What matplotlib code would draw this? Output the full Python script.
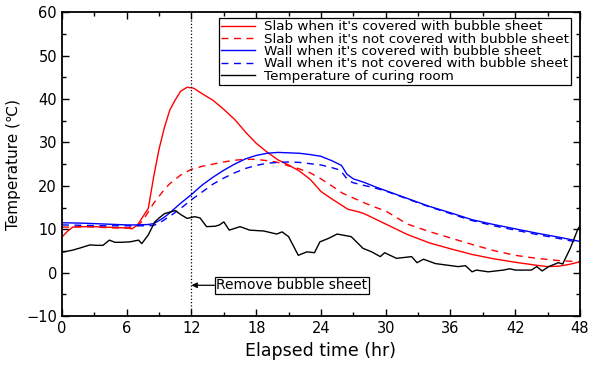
import matplotlib
matplotlib.use("Agg")
import matplotlib.pyplot as plt
from matplotlib.ticker import MultipleLocator

plt.rcParams['font.family'] = ['DejaVu Sans']

# Slab, covered with bubble sheet
slab_cov_h = [0, 0.5, 1, 2, 3, 4, 5, 6, 6.5, 7, 7.5, 8, 8.5, 9, 9.5, 10, 10.5, 11, 11.6, 12.2,
              13, 14, 15, 16, 17, 18, 19, 20, 21, 22, 23, 24, 25, 26, 26.5, 27.5, 28, 29, 30,
              31, 32, 34, 36, 38, 40, 42, 44, 45, 46, 47, 48]
slab_cov_t = [8.2, 9.5, 10.5, 10.6, 10.6, 10.5, 10.4, 10.3, 10.1, 11.0, 12.9, 14.8, 22.1, 28.5,
              33.5, 37.5, 39.8, 41.8, 42.7, 42.5, 41.2, 39.7, 37.6, 35.3, 32.4, 29.8, 27.8, 26.0,
              24.8, 23.4, 21.5, 18.7, 17.0, 15.4, 14.6, 14.0, 13.6, 12.4, 11.2, 10.0, 8.8, 6.9,
              5.5, 4.2, 3.2, 2.4, 1.7, 1.4, 1.5, 1.9, 2.5]

# Slab, not covered
slab_unc_h = [0, 1, 2, 3, 4, 5, 6, 7, 7.5, 8, 8.5, 9, 9.5, 10, 11, 12, 13, 14, 15, 16, 17, 18,
              19, 20, 21, 22, 23, 24, 25, 26, 27, 28, 29, 30, 32, 34, 36, 38, 40, 42, 44, 46, 48]
slab_unc_t = [10.5, 10.5, 10.6, 10.5, 10.4, 10.3, 10.3, 10.8, 12.0, 14.0, 16.0, 17.6, 19.2,
              20.5, 22.5, 23.8, 24.5, 25.0, 25.5, 25.9, 26.1, 26.1, 25.8, 25.4, 24.6, 23.9,
              23.0, 21.6, 20.0, 18.3, 17.2, 16.1, 15.1, 14.2, 11.2, 9.5, 8.0, 6.5, 5.1, 4.0,
              3.3, 2.8, 2.5]

# Wall, covered with bubble sheet
wall_cov_h = [0, 2, 4, 6, 7, 8, 8.5, 9, 9.5, 10, 11, 12, 13, 14, 15, 16, 17, 18, 19, 20, 21,
              22, 23, 24, 25, 25.9, 26.4, 27, 28, 29, 30, 32, 34, 36, 38, 40, 42, 44, 46, 48]
wall_cov_t = [11.5, 11.4, 11.2, 11.0, 11.0, 11.1, 11.3, 12.0, 12.8, 13.8, 16.0, 18.0, 20.2,
              22.0, 23.6, 25.0, 26.2, 27.0, 27.5, 27.7, 27.6, 27.5, 27.2, 26.8, 25.8, 24.7,
              22.7, 21.6, 20.8, 19.8, 18.9, 17.1, 15.3, 13.8, 12.2, 11.1, 10.1, 9.1, 8.2, 7.2]

# Wall, not covered
wall_unc_h = [0, 2, 4, 6, 8, 8.5, 9, 9.5, 10, 11, 12, 13, 14, 15, 16, 17, 18, 19, 20, 21, 22,
              23, 24, 25, 25.8, 26.5, 27, 28, 29, 30, 32, 34, 36, 38, 40, 42, 44, 46, 48]
wall_unc_t = [11.0, 10.9, 10.8, 10.8, 10.8, 10.9, 11.4, 12.2, 13.0, 14.8, 16.8, 18.6, 20.4,
              21.8, 23.0, 24.0, 24.7, 25.2, 25.4, 25.5, 25.4, 25.1, 24.8, 24.2, 23.6, 21.3,
              20.7, 20.1, 19.5, 18.8, 17.0, 15.2, 13.6, 12.0, 10.8, 9.8, 8.8, 7.9, 6.9]

# Curing room air
room_h = [0, 1, 1.7, 2.6, 3.2, 3.8, 4.4, 4.9, 5.5, 6.3, 7.1, 7.4, 8.0, 8.6, 9.0, 9.5, 10.5,
          11.0, 11.6, 12.3, 12.8, 13.4, 14.2, 14.6, 15.0, 15.5, 16.5, 17.4, 18.7, 19.9, 20.4,
          21.0, 21.9, 22.7, 23.4, 23.9, 24.7, 25.5, 26.8, 27.9, 28.7, 29.5, 29.9, 31.0, 32.4,
          32.9, 33.5, 34.6, 36.7, 37.4, 38.0, 38.4, 39.5, 40.9, 41.5, 42.0, 43.5, 44.0, 44.5,
          45.1, 46.0, 46.4, 47.1, 47.8, 48]
room_t = [4.7, 5.2, 5.7, 6.4, 6.3, 6.3, 7.5, 7.0, 7.0, 7.1, 7.5, 6.7, 8.7, 11.7, 12.6, 13.6,
          14.3, 13.4, 12.5, 12.9, 12.6, 10.6, 10.7, 11.0, 11.7, 9.8, 10.6, 9.8, 9.6, 8.9, 9.4,
          8.3, 4.0, 4.8, 4.6, 7.1, 7.9, 8.9, 8.3, 5.6, 4.8, 3.7, 4.6, 3.3, 3.7, 2.3, 3.1, 2.1,
          1.4, 1.6, 0.2, 0.6, 0.2, 0.6, 0.9, 0.6, 0.6, 1.4, 0.4, 1.4, 2.3, 2.0, 5.6, 10.0, 10.8]

fig = plt.figure(figsize=(5.9, 3.68), dpi=100)
ax = fig.add_axes([0.105, 0.141, 0.878, 0.826])

ax.plot(slab_cov_h, slab_cov_t, color="red", lw=1.0, label="Slab when it's covered with bubble sheet")
ax.plot(slab_unc_h, slab_unc_t, color="red", lw=1.0, ls=(0, (5, 4)),
        label="Slab when it's not covered with bubble sheet")
ax.plot(wall_cov_h, wall_cov_t, color="blue", lw=1.0, label="Wall when it's covered with bubble sheet")
ax.plot(wall_unc_h, wall_unc_t, color="blue", lw=1.0, ls=(0, (5, 4)),
        label="Wall when it's not covered with bubble sheet")
ax.plot(room_h, room_t, color="black", lw=1.0, label="Temperature of curing room")

ax.axvline(12, color="black", ls=":", lw=0.9)
ax.annotate("Remove bubble sheet", xy=(12, -2.9), xytext=(14.3, -2.9), fontsize=10,
            ha="left", va="center",
            bbox=dict(boxstyle="square,pad=0.1", fc="white", ec="black", lw=0.9),
            arrowprops=dict(arrowstyle="-|>", color="black", lw=0.9, mutation_scale=8,
                            shrinkA=0, shrinkB=0))

ax.set_xlim(0, 48)
ax.set_ylim(-10, 60)
ax.xaxis.set_major_locator(MultipleLocator(6))
ax.xaxis.set_minor_locator(MultipleLocator(3))
ax.yaxis.set_major_locator(MultipleLocator(10))
ax.yaxis.set_minor_locator(MultipleLocator(5))
ax.tick_params(which="both", direction="in", top=True, right=True, labelsize=10.5)
ax.tick_params(which="major", length=5, width=1)
ax.tick_params(which="minor", length=3, width=1)
for s in ax.spines.values():
    s.set_linewidth(1.3)

ax.set_xlabel("Elapsed time (hr)", fontsize=12.5)
ax.set_ylabel("Temperature (\u2103)", fontsize=11, labelpad=4)

leg = ax.legend(loc="upper right", bbox_to_anchor=(0.983, 0.98), borderaxespad=0,
                fontsize=9.7, fancybox=False, edgecolor="black", framealpha=1,
                handlelength=2.5, labelspacing=-0.05, borderpad=0.15, handletextpad=0.7)
leg.get_frame().set_linewidth(0.9)

fig.savefig("out.png", dpi=100)
